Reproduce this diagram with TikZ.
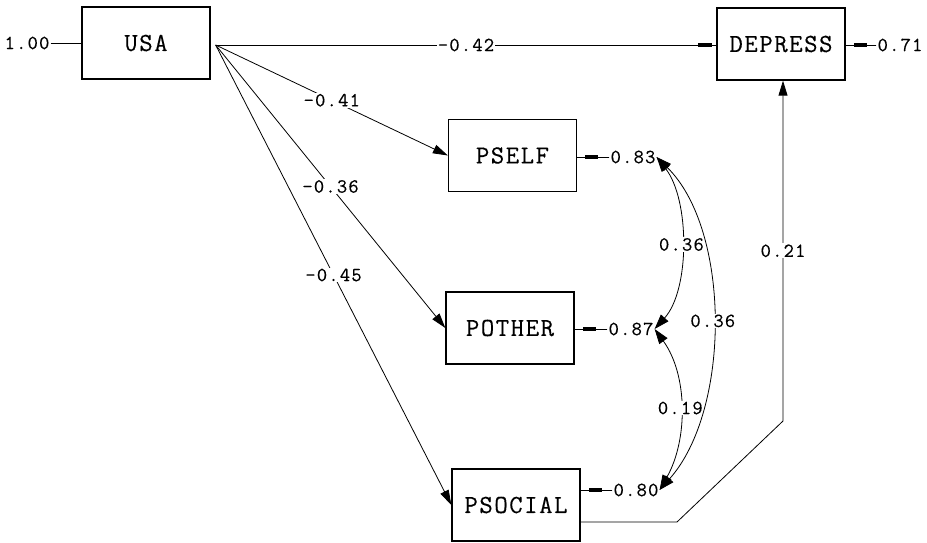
\documentclass[tikz,border=0pt]{standalone}
\usepackage{fontspec}
\newfontfamily\diagmono{Latin Modern Mono}[LetterSpace=6.0,FakeBold=0.3]
\usetikzlibrary{arrows.meta}
\begin{document}
\begin{tikzpicture}[x=1pt,y=-1pt,
  var/.style={draw,line width=1.3pt,minimum width=128pt,minimum height=72pt,
    inner sep=0pt,font=\diagmono\fontsize{26}{26}\selectfont},
  num/.style={inner sep=1pt,font=\diagmono\fontsize{20}{20}\selectfont},
  lab/.style={num,fill=white},
  path/.style={line width=0.8pt,-{Triangle[length=15pt,width=9pt]}},
  blockpath/.style={line width=0.8pt,
    postaction={draw,line width=0.8pt,-{Rectangle[length=13pt,width=4.5pt]},shorten >=#1}},
  blockpath/.default=8pt,
  cov/.style={line width=0.8pt,
    {Triangle[length=15pt,width=10pt]}-{Triangle[length=15pt,width=10pt]}}]
\useasboundingbox (0,0) rectangle (927,543);

% observed variables
\node[var] (usa)  at (146,43)    {USA};
\node[var] (dep)  at (781,44)    {DEPRESS};
\node[var] (pself) at (512.5,155.5) {PSELF};
\node[var] (poth) at (510,328)   {POTHER};
\node[var] (psoc) at (516,505)   {PSOCIAL};

% variances and error terms
\node[num] (e100) at (27,43)  {1.00};
\node[num] (e71)  at (900,45) {0.71};
\node[num] (e83)  at (633,157) {0.83};
\node[num] (e87)  at (631,329) {0.87};
\node[num] (e80)  at (636,490) {0.80};

\draw[line width=0.8pt] (e100.east) -- (usa.west);
\draw[blockpath] (e71.west) -- (dep.east |- e71.west);
\draw[blockpath] (e83.west) -- (pself.east |- e83.west);
\draw[blockpath] (e87.west) -- (poth.east |- e87.west);
\draw[blockpath] (e80.west) -- (psoc.east |- e80.west);

% structural paths
\coordinate (src) at ([xshift=5pt,yshift=-2pt]usa.east);
\draw[blockpath=5pt] (src) -- node[lab,pos=0.5]{-0.42} (dep.west |- src);
\draw[path] (src) -- node[lab,pos=0.5]{-0.41} (pself.west);
\draw[path] (src) -- node[lab,pos=0.5]{-0.36} (poth.west);
\draw[path] (src) -- node[lab,pos=0.5]{-0.45} (psoc.west);

\coordinate (k1) at (677,522);
\coordinate (k2) at (783,421);
\draw[path] ([yshift=-17pt]psoc.east) -- (k1) -- (k2)
  -- node[lab,pos=0.5]{0.21} (k2 |- dep.south);

% error covariances
\draw[cov] (e83.east) .. controls (690,200) and (690,290) ..
  node[lab,pos=0.5]{0.36} (e87.east);
\draw[cov] (e87.east) .. controls (688,375) and (688,440) ..
  node[lab,pos=0.5]{0.19} (e80.east);
\draw[cov] (e83.east) .. controls (731,230) and (731,410) ..
  node[lab,pos=0.5]{0.36} (e80.east);
\end{tikzpicture}
\end{document}
